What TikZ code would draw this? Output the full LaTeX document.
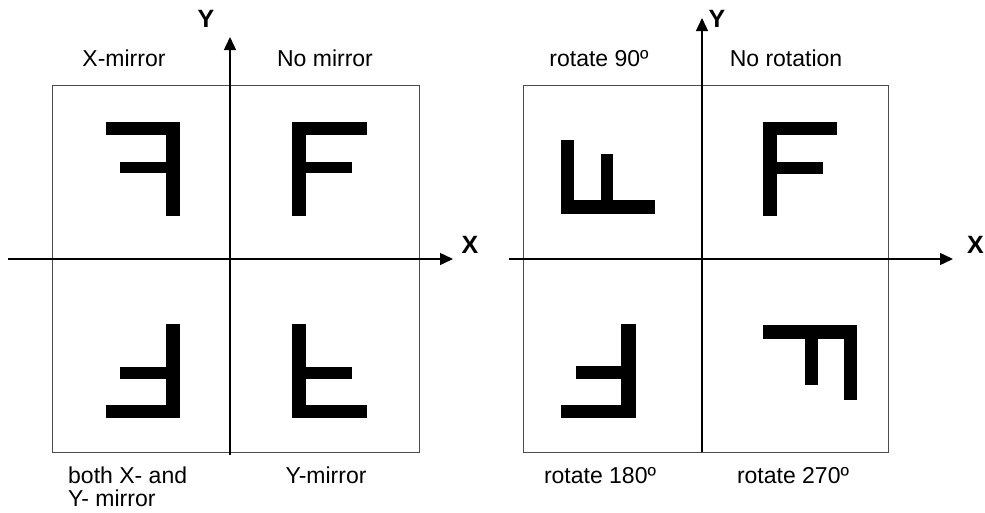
\documentclass[tikz,border=0pt]{standalone}
\usepackage{fontspec}
\setmainfont{Liberation Sans}
\usetikzlibrary{arrows.meta}
\begin{document}
\begin{tikzpicture}[x=1pt,y=-1pt,
  frame/.style={draw=black!70, line width=0.9pt},
  axis/.style={draw=black, line width=1.4pt, -{Triangle[length=13pt,width=12pt]}},
  glyph/.style={fill=black, draw=none},
  lbl/.style={font=\fontsize{23}{26}\selectfont, anchor=base, inner sep=0pt},
  axlbl/.style={font=\fontsize{25}{28}\selectfont\bfseries, inner sep=0pt}]
\useasboundingbox (0,0) rectangle (985,512);

% ---------------- left diagram: mirrors ----------------
\draw[frame] (52,85) rectangle (419,452);
\coordinate (lxs) at (8,259);
\coordinate (lxe) at (453,259);
\coordinate (lys) at (230,455);
\coordinate (lye) at (230,37);
\draw[axis] (lxs) -- (lxe);
\draw[axis] (lys) -- (lye);
\node[axlbl] (lY) at (206,19) {Y};
\node[axlbl] (lX) at (470,245) {X};

\node[lbl] (xmirror) at (124,66) {X-mirror};
\node[lbl] (nomirror) at (325,66) {No mirror};
\node[lbl, anchor=base west] (both1) at (68,483) {both X- and};
\node[lbl, anchor=base west] (both2) at (68,506) {Y- mirror};
\node[lbl] (ymirror) at (326,483) {Y-mirror};

% F, no mirror
\fill[glyph] (292,122) rectangle (367,135);
\fill[glyph] (292,122) rectangle (306,216);
\fill[glyph] (292,162) rectangle (352,173);
% X-mirror
\fill[glyph] (106,122) rectangle (180,135);
\fill[glyph] (166,122) rectangle (180,216);
\fill[glyph] (120,162) rectangle (180,173);
% both
\fill[glyph] (166,324) rectangle (180,418);
\fill[glyph] (106,405) rectangle (180,418);
\fill[glyph] (120,367) rectangle (180,379);
% Y-mirror
\fill[glyph] (292,324) rectangle (306,418);
\fill[glyph] (292,405) rectangle (367,418);
\fill[glyph] (292,367) rectangle (352,379);

% ---------------- right diagram: rotations ----------------
\draw[frame] (523,85) rectangle (888,452);
\coordinate (rxs) at (509,259);
\coordinate (rxe) at (953,259);
\coordinate (rys) at (702,452);
\coordinate (rye) at (702,18);
\draw[axis] (rxs) -- (rxe);
\draw[axis] (rys) -- (rye);
\node[axlbl] (rY) at (717,19) {Y};
\node[axlbl, anchor=west] (rX) at (967,245) {X};

\node[lbl] (rot90) at (599,66) {rotate 90º};
\node[lbl] (norot) at (786,66) {No rotation};
\node[lbl] (rot180) at (600,483) {rotate 180º};
\node[lbl] (rot270) at (793,483) {rotate 270º};

% F, no rotation
\fill[glyph] (763,122) rectangle (837,135);
\fill[glyph] (763,122) rectangle (777,216);
\fill[glyph] (763,162) rectangle (823,174);
% rotate 90
\fill[glyph] (561,200) rectangle (655,214);
\fill[glyph] (561,140) rectangle (574,214);
\fill[glyph] (601,154) rectangle (613,214);
% rotate 180
\fill[glyph] (621,324) rectangle (636,418);
\fill[glyph] (561,405) rectangle (636,418);
\fill[glyph] (576,366) rectangle (636,379);
% rotate 270
\fill[glyph] (763,325) rectangle (857,339);
\fill[glyph] (844,325) rectangle (857,400);
\fill[glyph] (805,325) rectangle (818,385);
\end{tikzpicture}
\end{document}
